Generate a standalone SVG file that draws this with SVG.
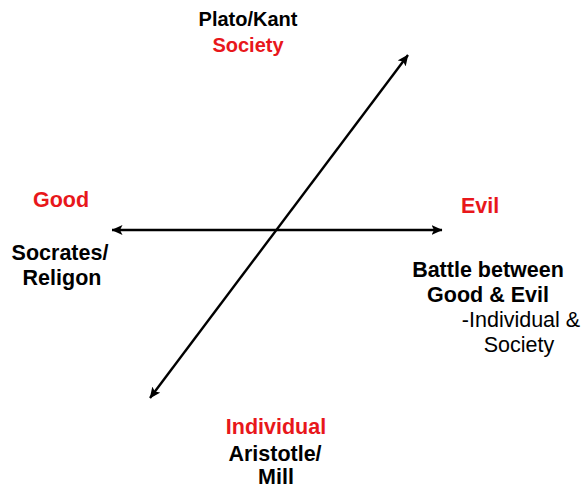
<svg xmlns="http://www.w3.org/2000/svg" width="582" height="490" viewBox="0 0 582 490">
<style>
text{font-family:"Liberation Sans",Arial,sans-serif;font-size:21.5px;text-anchor:middle}
.t{font-size:20px}
.b{font-weight:bold;fill:#000}
.r{font-weight:bold;fill:#e8171b}
.n{fill:#000}
.ax{stroke:#000;stroke-width:2.4;fill:none}
</style>
<defs>
<marker id="ah" viewBox="0 0 11 10" refX="10.5" refY="5" markerWidth="11" markerHeight="10" orient="auto-start-reverse" markerUnits="userSpaceOnUse">
<path d="M0,0 L11,5 L0,10 L2.5,5 Z" fill="#000"/>
</marker>
</defs>
<g id="connectors">
<line class="ax" x1="112" y1="230" x2="442" y2="230" marker-start="url(#ah)" marker-end="url(#ah)"/>
<line class="ax" x1="150" y1="398" x2="408" y2="55" marker-start="url(#ah)" marker-end="url(#ah)"/>
</g>
<g id="top">
<text class="b t" x="248" y="26">Plato/Kant</text>
<text class="r t" x="248" y="52">Society</text>
</g>
<g id="left">
<text class="r" x="61" y="207">Good</text>
<text class="b" x="60" y="260">Socrates/</text>
<text class="b" x="62" y="285">Religon</text>
</g>
<g id="right">
<text class="r" x="480" y="213">Evil</text>
<text class="b" x="488" y="277">Battle between</text>
<text class="b" x="488" y="302">Good &amp; Evil</text>
<text class="n" x="521" y="327">-Individual &amp;</text>
<text class="n" x="519" y="352">Society</text>
</g>
<g id="bottom">
<text class="r" x="276" y="434">Individual</text>
<text class="b" x="275" y="461">Aristotle/</text>
<text class="b" x="276" y="484">Mill</text>
</g>
</svg>
